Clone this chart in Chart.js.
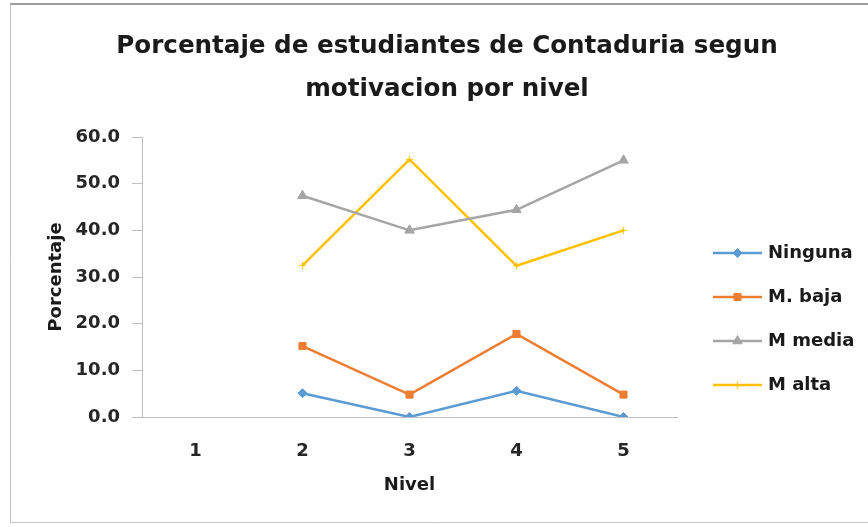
<!DOCTYPE html>
<html>
<head>
<meta charset="utf-8">
<script src="https://cdn.jsdelivr.net/npm/chart.js@4.4.1/dist/chart.umd.min.js"></script>
<style>
  html, body { margin: 0; padding: 0; background: #fff; }
  #wrap { width: 868px; height: 527px; position: relative; }
</style>
</head>
<body>
<div id="wrap"><canvas id="chart"></canvas></div>
<script>
// Data
const categories = ['1', '2', '3', '4', '5'];
const seriesNames = ['Ninguna', 'M. baja', 'M media', 'M alta'];
const ninguna = [null, 5.1, 0.0, 5.6, 0.0];
const mBaja = [null, 15.2, 4.8, 17.8, 4.8];
const mMedia = [null, 47.4, 40.0, 44.4, 55.0];
const mAlta = [null, 32.5, 55.2, 32.4, 40.0];
const titleLines = ['Porcentaje de estudiantes de Contaduria segun', 'motivacion por nivel'];

const colors = ['#5B9BD5', '#ED7D31', '#A5A5A5', '#FFC000'];
const markers = ['rectRot', 'rect', 'triangle', 'cross'];
const markerSizes = [4.5, 5, 5.5, 3.5];
const FONT = "'DejaVu Sans', sans-serif";

const values = [ninguna, mBaja, mMedia, mAlta];

// background, frame, title and legend (Excel style)
const excelFrame = {
    id: 'excelFrame',
    beforeDraw(chart) {
        const ctx = chart.ctx;
        ctx.save();
        ctx.fillStyle = '#fff';
        ctx.fillRect(0, 0, chart.width, chart.height);
        ctx.strokeStyle = '#9a9a9a';
        ctx.lineWidth = 2;
        ctx.beginPath();
        ctx.moveTo(10, 4);
        ctx.lineTo(chart.width, 4);
        ctx.stroke();
        ctx.strokeStyle = '#c4c4c4';
        ctx.lineWidth = 1;
        ctx.beginPath();
        ctx.moveTo(10.5, 4);
        ctx.lineTo(10.5, 522.5);
        ctx.lineTo(chart.width, 522.5);
        ctx.stroke();
        ctx.restore();
    },
    afterDraw(chart) {
        const ctx = chart.ctx;
        ctx.save();
        ctx.fillStyle = '#1a1a1a';
        ctx.textAlign = 'center';
        ctx.textBaseline = 'alphabetic';
        ctx.font = "bold 24.6px " + FONT;
        titleLines.forEach((t, i) => ctx.fillText(t, 447, 53 + i * 43));

        // legend: line + marker, then label
        ctx.textBaseline = 'middle';
        chart.data.datasets.forEach((ds, i) => {
            const y = 253 + i * 44;
            ctx.strokeStyle = ds.borderColor;
            ctx.fillStyle = ds.backgroundColor;
            ctx.lineWidth = 2.5;
            ctx.beginPath();
            ctx.moveTo(713, y);
            ctx.lineTo(762, y);
            ctx.stroke();
            ctx.lineWidth = ds.pointBorderWidth;
            Chart.helpers.drawPoint(ctx, {
                pointStyle: ds.pointStyle,
                radius: ds.pointRadius,
                rotation: 0,
                borderWidth: ds.pointBorderWidth
            }, 737.5, y);
            ctx.fillStyle = '#1a1a1a';
            ctx.textAlign = 'left';
            ctx.font = "bold 18px " + FONT;
            ctx.fillText(ds.label, 768, y);
        });
        ctx.restore();
    }
};

new Chart(document.getElementById('chart'), {
    type: 'line',
    data: {
        labels: categories,
        datasets: values.map((v, i) => ({
            label: seriesNames[i],
            data: v,
            borderColor: colors[i],
            backgroundColor: colors[i],
            borderWidth: 2.5,
            pointStyle: markers[i],
            pointRadius: markerSizes[i],
            pointBorderWidth: 1,
            pointBackgroundColor: colors[i],
            pointBorderColor: colors[i],
            tension: 0,
            spanGaps: false
        }))
    },
    options: {
        responsive: true,
        maintainAspectRatio: false,
        animation: false,
        layout: {
            padding: { left: 42, right: 191, top: 137, bottom: 20 }
        },
        plugins: {
            legend: { display: false },
            title: { display: false },
            tooltip: { enabled: false }
        },
        scales: {
            x: {
                offset: true,
                afterFit: (scale) => { scale.height = 90; },
                grid: {
                    display: true,
                    drawOnChartArea: false,
                    drawTicks: false
                },
                border: { display: true, color: '#bfbfbf', width: 1 },
                ticks: {
                    padding: 24,
                    color: '#262626',
                    font: { family: FONT, size: 18, weight: 'bold' }
                },
                title: {
                    display: true,
                    text: 'Nivel',
                    color: '#1a1a1a',
                    padding: { top: 0, bottom: 11 },
                    font: { family: FONT, size: 18, weight: 'bold' }
                }
            },
            y: {
                min: 0,
                max: 60,
                afterFit: (scale) => { scale.width = 100; },
                grid: {
                    display: true,
                    drawOnChartArea: false,
                    drawTicks: true,
                    tickLength: 10,
                    color: '#bfbfbf'
                },
                border: { display: true, color: '#bfbfbf', width: 1 },
                ticks: {
                    stepSize: 10,
                    padding: 12,
                    color: '#262626',
                    font: { family: FONT, size: 18, weight: 'bold' },
                    callback: (v) => Number(v).toFixed(1)
                },
                title: {
                    display: true,
                    text: 'Porcentaje',
                    color: '#1a1a1a',
                    padding: { top: 4, bottom: 0 },
                    font: { family: FONT, size: 18, weight: 'bold' }
                }
            }
        }
    },
    plugins: [excelFrame]
});
</script>
</body>
</html>
